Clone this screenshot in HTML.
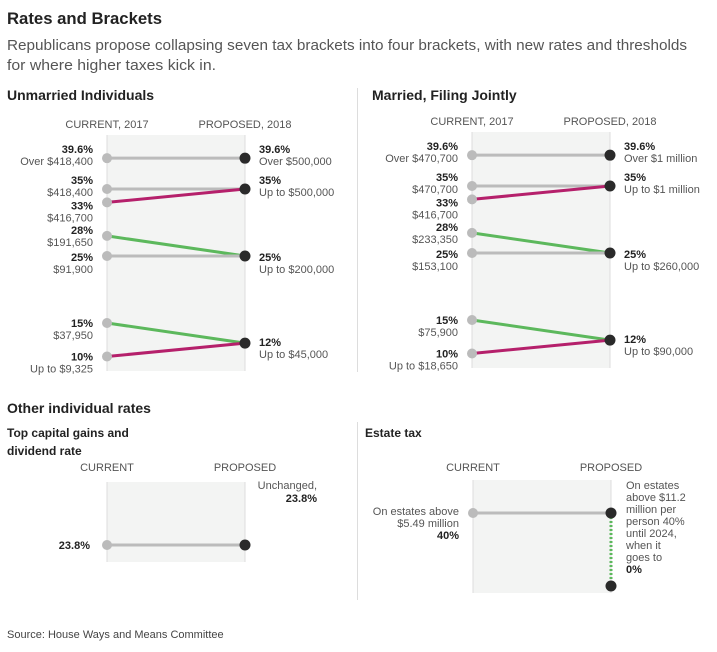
<!DOCTYPE html>
<html><head><meta charset="utf-8"><style>
body{margin:0;background:#fff;width:717px;height:647px;overflow:hidden;font-family:"Liberation Sans",sans-serif}
svg text{font-family:"Liberation Sans",sans-serif}
</style></head><body>
<svg id="chart" width="717" height="647" viewBox="0 0 717 647">
<text x="7" y="24" font-size="17" font-weight="bold" fill="#222" textLength="155" lengthAdjust="spacingAndGlyphs">Rates and Brackets</text>
<text x="7" y="50" font-size="15" fill="#555" textLength="680" lengthAdjust="spacingAndGlyphs">Republicans propose collapsing seven tax brackets into four brackets, with new rates and thresholds</text>
<text x="7" y="70" font-size="15" fill="#555" textLength="209" lengthAdjust="spacingAndGlyphs">for where higher taxes kick in.</text>
<line x1="357.5" y1="88" x2="357.5" y2="372" stroke="#ddd"/>
<line x1="357.5" y1="422" x2="357.5" y2="600" stroke="#ddd"/>
<g id="g"></g>
<text x="7" y="638" font-size="11" fill="#444">Source: House Ways and Means Committee</text>
</svg>
<script>
const currentRates=[39.6,35,33,28,25,15,10];
const proposedRates=[39.6,35,25,12];
const lineLinks=[[0,0],[1,1],[2,1],[3,2],[4,2],[5,3],[6,3]];
const lineColors=["#bbb","#bbb","#b5206b","#5cb85c","#bbb","#5cb85c","#b5206b"];
const singleCurLabels=["Over $418,400","$418,400","$416,700","$191,650","$91,900","$37,950","Up to $9,325"];
const singlePropLabels=["Over $500,000","Up to $500,000","Up to $200,000","Up to $45,000"];
const jointCurLabels=["Over $470,700","$470,700","$416,700","$233,350","$153,100","$75,900","Up to $18,650"];
const jointPropLabels=["Over $1 million","Up to $1 million","Up to $260,000","Up to $90,000"];
const capGainsRates=[23.8,23.8];
const estateRates=[40,40,0];
// label nudges to avoid overlap (layout only)
const curNudge=[-9,-9,3,-6,1,0,0];
const propNudge=[-9,-9,1,-1];
const NS="http://www.w3.org/2000/svg";
const G=document.getElementById('g');
function mk(tag,attrs,parent,txt){const e=document.createElementNS(NS,tag);for(const k in attrs)e.setAttribute(k,attrs[k]);if(txt!==undefined)e.textContent=txt;(parent||G).appendChild(e);return e;}
function yScale(base){return r=>base-(r-25)*6.7;}
function panel(ox,oy,title,curL,propL,key){
  const y=yScale(oy);const xc=ox+100,xp=ox+238;
  const t=mk('text',{x:ox,y:100,'font-size':14,'font-weight':'bold',fill:'#222'},G,title);
  
  
  const r=mk('rect',{x:xc,y:oy-121,width:xp-xc,height:236,fill:'#f3f4f3'});
  
  
  [xc,xp].forEach((x,i)=>{const l=mk('line',{x1:x,x2:x,y1:oy-121,y2:oy+115,stroke:'#ddd'});
    
    });
  const h1=mk('text',{x:xc,y:oy-128,'font-size':11,fill:'#555','text-anchor':'middle'},G,'CURRENT, 2017');
  
  
  const h2=mk('text',{x:xp,y:oy-128,'font-size':11,fill:'#555','text-anchor':'middle'},G,'PROPOSED, 2018');
  
  
  lineLinks.forEach(([c,p],i)=>{const l=mk('line',{x1:xc,y1:y(currentRates[c]),x2:xp,y2:y(proposedRates[p]),stroke:lineColors[i],'stroke-width':3});
    
    });
  currentRates.forEach((v,i)=>{const cy=y(v);const ly=cy+curNudge[i];
    const c=mk('circle',{cx:xc,cy:cy,r:5,fill:'#bbb'});
    
    
    const a=mk('text',{x:xc-14,y:ly+4,'font-size':11,'font-weight':'bold',fill:'#222','text-anchor':'end'},G,v+'%');
    
    
    const b=mk('text',{x:xc-14,y:ly+16,'font-size':11,fill:'#555','text-anchor':'end'},G,curL[i]);
    
    });
  proposedRates.forEach((v,i)=>{const cy=y(v);const ly=cy+propNudge[i];
    const c=mk('circle',{cx:xp,cy:cy,r:5.5,fill:'#2a2a2a'});
    
    
    const a=mk('text',{x:xp+14,y:ly+4,'font-size':11,'font-weight':'bold',fill:'#222'},G,v+'%');
    
    
    const b=mk('text',{x:xp+14,y:ly+16,'font-size':11,fill:'#555'},G,propL[i]);
    
    });
}
panel(7,256,'Unmarried Individuals',singleCurLabels,singlePropLabels,'single');
panel(372,253,'Married, Filing Jointly',jointCurLabels,jointPropLabels,'joint');
const ot=mk('text',{x:7,y:413,'font-size':14,'font-weight':'bold',fill:'#222'},G,'Other individual rates');


(function(){const xc=107,xp=245,ys=v=>545-(v-23.8)*3;
  [['Top capital gains and',437],['dividend rate',455]].forEach(([s,yy])=>{const t=mk('text',{x:7,y:yy,'font-size':12,'font-weight':'bold',fill:'#222'},G,s);
    
    });
  const r=mk('rect',{x:xc,y:482,width:xp-xc,height:80,fill:'#f3f4f3'});
  
  
  [xc,xp].forEach(x=>{const l=mk('line',{x1:x,x2:x,y1:482,y2:562,stroke:'#ddd'});
    
    });
  [['CURRENT',xc],['PROPOSED',xp]].forEach(([s,x])=>{const t=mk('text',{x:x,y:471,'font-size':11,fill:'#555','text-anchor':'middle'},G,s);
    
    });
  const l=mk('line',{x1:xc,y1:ys(capGainsRates[0]),x2:xp,y2:ys(capGainsRates[1]),stroke:'#bbb','stroke-width':3});
  
  
  const c1=mk('circle',{cx:xc,cy:ys(capGainsRates[0]),r:5,fill:'#bbb'});
  
  
  const c2=mk('circle',{cx:xp,cy:ys(capGainsRates[1]),r:5.5,fill:'#2a2a2a'});
  
  
  const a=mk('text',{x:90,y:ys(capGainsRates[0])+4,'font-size':11,'font-weight':'bold',fill:'#222','text-anchor':'end'},G,capGainsRates[0]+'%');
  
  
  const b=mk('text',{x:317,y:489,'font-size':11,fill:'#555','text-anchor':'end'},G,'Unchanged,');
  
  
  const b2=mk('text',{x:317,y:502,'font-size':11,'font-weight':'bold',fill:'#222','text-anchor':'end'},G,capGainsRates[1]+'%');
  
  
})();
(function(){const xc=473,xp=611,ys=v=>586-v*1.825;
  const t=mk('text',{x:365,y:437,'font-size':12,'font-weight':'bold',fill:'#222'},G,'Estate tax');
  
  
  const r=mk('rect',{x:xc,y:480,width:xp-xc,height:113,fill:'#f3f4f3'});
  
  
  [xc,xp].forEach(x=>{const l=mk('line',{x1:x,x2:x,y1:480,y2:593,stroke:'#ddd'});
    
    });
  [['CURRENT',xc],['PROPOSED',xp]].forEach(([s,x])=>{const h=mk('text',{x:x,y:471,'font-size':11,fill:'#555','text-anchor':'middle'},G,s);
    
    });
  const l=mk('line',{x1:xc,y1:ys(estateRates[0]),x2:xp,y2:ys(estateRates[1]),stroke:'#bbb','stroke-width':3});
  
  
  const d=mk('line',{x1:xp,y1:ys(estateRates[1]),x2:xp,y2:ys(estateRates[2]),stroke:'#5cb85c','stroke-width':3,'stroke-dasharray':'2,2'});
  
  
  const c1=mk('circle',{cx:xc,cy:ys(estateRates[0]),r:5,fill:'#bbb'});
  
  
  [1,2].forEach(i=>{const c=mk('circle',{cx:xp,cy:ys(estateRates[i]),r:5.5,fill:'#2a2a2a'});
    
    });
  [['On estates above',515,0],['$5.49 million',527,0],[estateRates[0]+'%',539,1]].forEach(([s,yy,b])=>{const e=mk('text',{x:459,y:yy,'font-size':11,'font-weight':b?'bold':'normal',fill:b?'#222':'#555','text-anchor':'end'},G,s);
    
    });
  const lines=['On estates','above $11.2','million per','person 40%','until 2024,','when it','goes to'];
  lines.forEach((s,i)=>{const e=mk('text',{x:626,y:489+i*12,'font-size':11,fill:'#555'},G,s);
    
    });
  const z=mk('text',{x:626,y:573,'font-size':11,'font-weight':'bold',fill:'#222'},G,estateRates[2]+'%');
  
  
})();
</script>
</body></html>
